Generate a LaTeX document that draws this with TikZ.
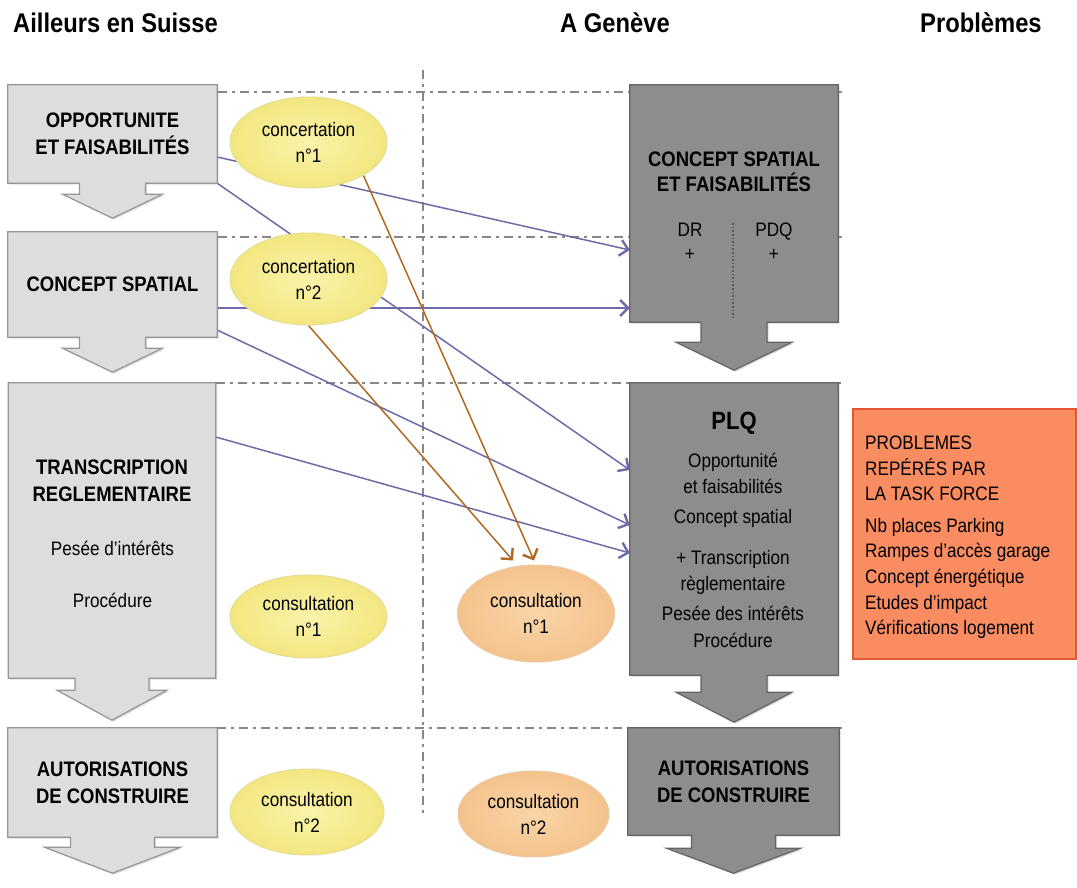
\documentclass[tikz,border=0pt]{standalone}
\usepackage{fontspec}
\setmainfont{Liberation Sans}[FakeStretch=0.88]
\usetikzlibrary{arrows.meta,calc,shapes.geometric,shadows}

\pgfdeclarelayer{paper}
\pgfdeclarelayer{guides}
\pgfdeclarelayer{plates}
\pgfsetlayers{paper,guides,plates,main}

\definecolor{paleBox}{RGB}{221,221,221}
\definecolor{paleEdge}{RGB}{150,150,150}
\definecolor{darkBox}{RGB}{141,141,141}
\definecolor{darkEdge}{RGB}{100,100,100}
\definecolor{guideGray}{RGB}{135,135,135}
\definecolor{linkBlue}{RGB}{108,108,168}
\definecolor{linkBrown}{RGB}{176,104,34}
\definecolor{yelIn}{RGB}{249,243,170}
\definecolor{yelOut}{RGB}{242,231,128}
\definecolor{yelEdge}{RGB}{230,220,150}
\definecolor{orgIn}{RGB}{249,212,168}
\definecolor{orgOut}{RGB}{244,195,140}
\definecolor{orgEdge}{RGB}{236,200,165}
\definecolor{probFill}{RGB}{250,140,98}
\definecolor{probEdge}{RGB}{228,86,48}

% stage plate: rectangle of a frame node with a block arrow below it
% #1 style, #2 node, #3 stem half width, #4 head half width, #5 stem length, #6 head length
\newcommand\stageplate[6]{%
  \draw[#1] (#2.north west) -- (#2.north east) -- (#2.south east)
    -- ($(#2.south)+(#3,0)$) -- ($(#2.south)+(#3,#5)$) -- ($(#2.south)+(#4,#5)$)
    -- ($(#2.south)+(0,#5+#6)$) -- ($(#2.south)+(-#4,#5)$) -- ($(#2.south)+(-#3,#5)$)
    -- ($(#2.south)+(-#3,0)$) -- (#2.south west) -- cycle;}

\tikzset{
  hdr/.style={font=\fontsize{27}{32}\selectfont\bfseries, anchor=base west, inner sep=0pt},
  ttl/.style={font=\fontsize{21}{27}\selectfont\bfseries, align=center, inner sep=0pt},
  txt/.style={font=\fontsize{19.5}{26}\selectfont, align=center, inner sep=0pt},
  frame/.style={rectangle, inner sep=0pt},
  palestage/.style={fill=paleBox, draw=paleEdge, line width=1.2pt,
    drop shadow={shadow xshift=1.5pt, shadow yshift=-1.5pt, opacity=0.25}},
  darkstage/.style={fill=darkBox, draw=darkEdge, line width=1.2pt,
    drop shadow={shadow xshift=1.5pt, shadow yshift=-1.5pt, opacity=0.3}},
  bubble/.style={ellipse, inner sep=0pt, line width=1pt, align=center,
    font=\fontsize{19.5}{26}\selectfont},
  yel/.style={bubble, draw=yelEdge, inner color=yelIn, outer color=yelOut},
  org/.style={bubble, draw=orgEdge, inner color=orgIn, outer color=orgOut},
  guide/.style={guideGray, line width=1.8pt, dash pattern=on 9pt off 5pt on 3pt off 5pt},
  bluelink/.style={linkBlue, line width=1.5pt,
    -{Straight Barb[length=8pt,width=16pt,line width=2.4pt]}},
  brownlink/.style={linkBrown, line width=1.5pt,
    -{Straight Barb[length=8pt,width=16pt,line width=2.4pt]}},
}

\begin{document}
\begin{tikzpicture}[x=1pt, y=-1pt]
\useasboundingbox (0,0) rectangle (1077,888);
\begin{pgfonlayer}{paper}
  \fill[white] (0,0) rectangle (1077,888);
\end{pgfonlayer}

% column headings
\node[hdr] (hL) at (13,33) {Ailleurs en Suisse};
\node[hdr] (hG) at (560,33) {A Genève};
\node[hdr] (hP) at (920,33) {Problèmes};

% Swiss procedure (left column)
\node[frame, ttl, minimum width=209pt, minimum height=98pt] (opp) at (112.5,134) {OPPORTUNITE\\ET FAISABILITÉS};
\node[frame, ttl, minimum width=209pt, minimum height=105pt] (csp) at (112.5,284.5) {CONCEPT SPATIAL};
\node[frame, minimum width=207pt, minimum height=295pt] (trans) at (112,530.5) {};
\node[ttl] (transT) at (112,481) {TRANSCRIPTION\\REGLEMENTAIRE};
\node[txt, anchor=base] (transA) at (112.5,555) {Pesée d'intérêts};
\node[txt, anchor=base] (transB) at (112.5,607) {Procédure};
\node[frame, ttl, minimum width=209pt, minimum height=109pt] (autoL) at (112.5,782.5) {AUTORISATIONS\\DE CONSTRUIRE};

% Geneva procedure (middle column)
\node[frame, minimum width=208pt, minimum height=237pt] (cspG) at (734,203.5) {};
\node[ttl, font=\fontsize{21}{25}\selectfont\bfseries] (cspT) at (734,172) {CONCEPT SPATIAL\\ET FAISABILITÉS};
\node[txt, font=\fontsize{19.5}{24}\selectfont] (dr) at (690,242) {DR\\+};
\node[txt, font=\fontsize{19.5}{24}\selectfont] (pdq) at (774,242) {PDQ\\+};
\node[frame, minimum width=208pt, minimum height=292pt] (plq) at (734,529) {};
\node[ttl, font=\fontsize{25}{30}\selectfont\bfseries] (plqT) at (734,423) {PLQ};
\node[txt] (plqB) at (733,550) {Opportunité\\et faisabilités\\[4pt]Concept spatial\\[15pt]+ Transcription\\règlementaire\\[4pt]Pesée des intérêts\\[1pt]Procédure};
\node[frame, ttl, minimum width=211pt, minimum height=107pt] (autoG) at (733.5,781.5) {AUTORISATIONS\\DE CONSTRUIRE};

% problems box
\node[frame, minimum width=223pt, minimum height=250pt, fill=probFill, draw=probEdge, line width=1.2pt] (prob) at (964.5,534) {};
\node[txt, align=left, anchor=west, font=\fontsize{19.5}{25.6}\selectfont] (probT) at (865,537.4) {PROBLEMES\\REPÉRÉS PAR\\LA TASK FORCE\\[6pt]Nb places Parking\\Rampes d'accès garage\\Concept énergétique\\Etudes d'impact\\Vérifications logement};

% consultation bubbles
\node[yel, minimum width=157pt, minimum height=91pt] (conc1) at (308.5,142.5) {concertation\\n°1};
\node[yel, minimum width=157pt, minimum height=92pt] (conc2) at (308.5,279) {concertation\\n°2};
\node[yel, minimum width=157pt, minimum height=83pt] (consL1) at (308.5,616.5) {consultation\\n°1};
\node[yel, minimum width=154pt, minimum height=86pt] (consL2) at (307,812) {consultation\\n°2};
\node[org, minimum width=157pt, minimum height=97pt] (consG1) at (536,613.5) {consultation\\n°1};
\node[org, minimum width=151pt, minimum height=86pt] (consG2) at (533.5,814) {consultation\\n°2};

% stage plates with their block arrows
\begin{pgfonlayer}{plates}
  \stageplate{palestage}{opp}{33}{50}{11}{24}
  \stageplate{palestage}{csp}{33}{50}{11}{24}
  \stageplate{palestage}{trans}{37}{55}{12}{30}
  \stageplate{palestage}{autoL}{42}{68}{10}{26}
  \stageplate{darkstage}{cspG}{33}{58}{20}{28}
  \stageplate{darkstage}{plq}{33}{58}{17}{30}
  \stageplate{darkstage}{autoG}{42}{67}{13}{25}
\end{pgfonlayer}

% divider between DR and PDQ
\draw[dotted, line width=1.6pt, black!65] ($(cspG.south)+(-1,-99)$) -- ($(cspG.south)+(-1,-4)$);

% phase guides and links
\begin{pgfonlayer}{guides}
  \draw[guide] (423,70) -- (423,815);
  \draw[guide] (218,92) -- (842,92);
  \draw[guide] (218,237) -- (842,237);
  \draw[guide] (216,383) -- (842,383);
  \draw[guide] (217,728) -- (842,728);

  \draw[bluelink] ([yshift=-23pt]opp.east) -- ([yshift=-46.5pt]cspG.west);
  \draw[bluelink] (opp.south east) -- ([yshift=59pt]plq.west);
  \draw[bluelink] ([yshift=-23.5pt]csp.east) -- ([yshift=-104.5pt]cspG.west);
  \draw[bluelink] ([yshift=-45.5pt]csp.east) -- ([yshift=4pt]plq.west);
  \draw[bluelink] ([yshift=93.5pt]trans.east) -- ([yshift=-24pt]plq.west);

  \draw[brownlink] (conc1.-31) -- ([xshift=-2pt,yshift=4pt]consG1.north);
  \draw[brownlink] (conc2.south) -- ([xshift=-23pt,yshift=4pt]consG1.north);
\end{pgfonlayer}
\end{tikzpicture}
\end{document}
